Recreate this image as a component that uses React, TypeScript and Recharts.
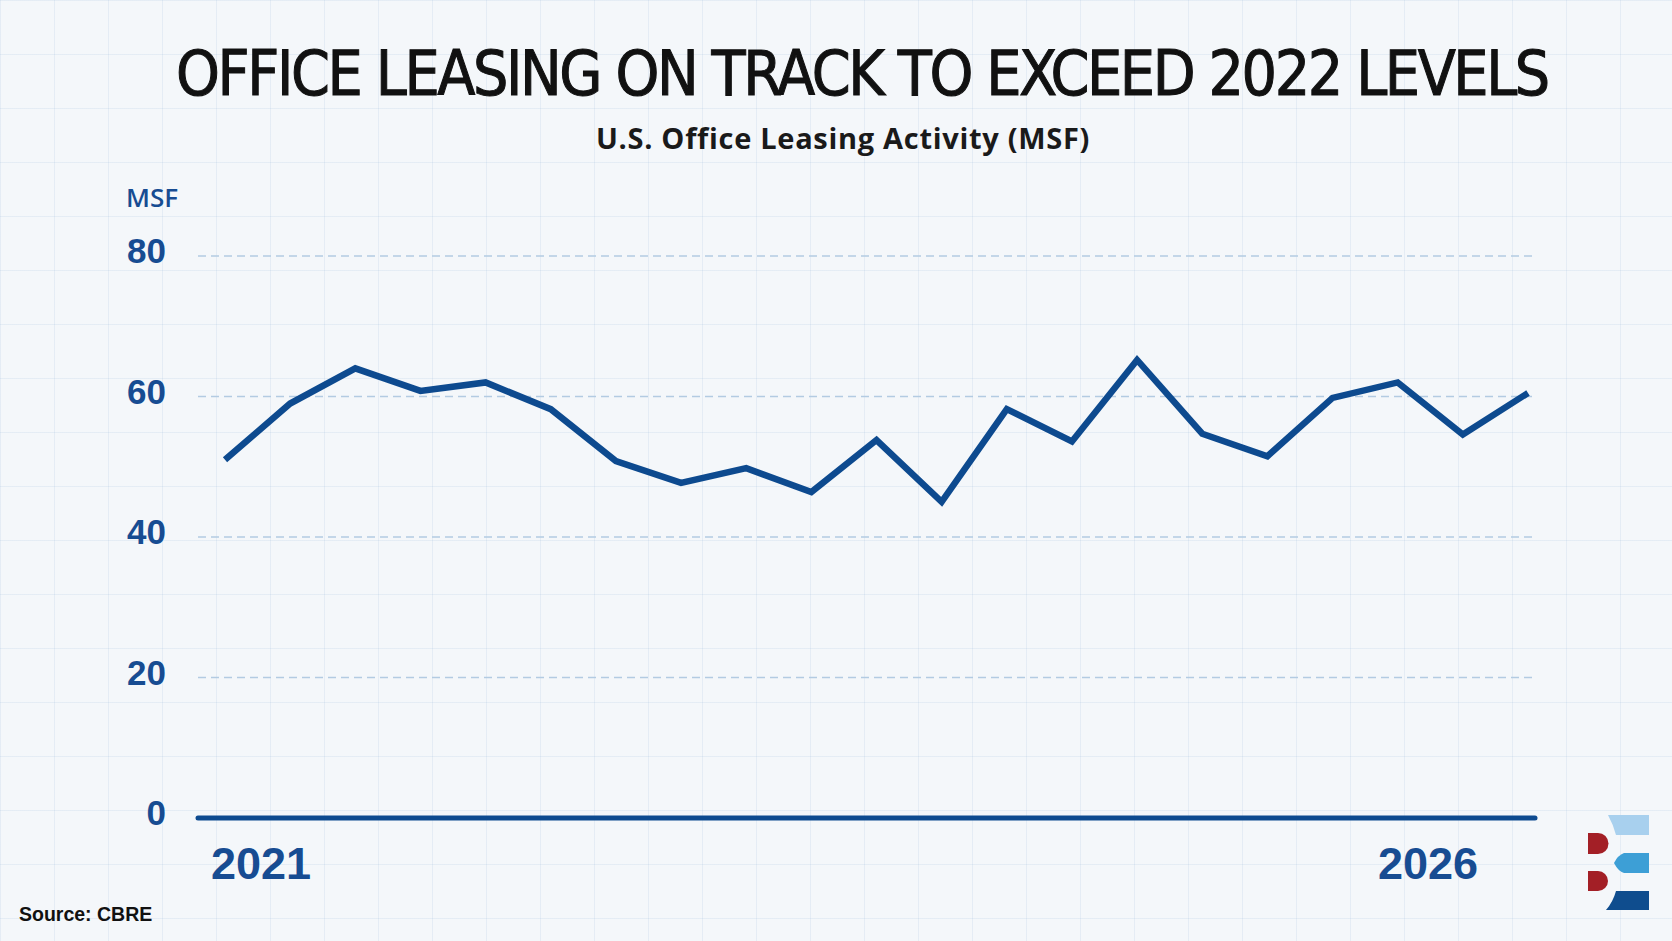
import React from 'react';
import {
  LineChart,
  Line,
  XAxis,
  YAxis,
  CartesianGrid,
} from 'recharts';

// Quarterly U.S. office leasing volume, Q1 2021 through Q1 2026 (MSF)
const quarters = [
  '2021 Q1', '2021 Q2', '2021 Q3', '2021 Q4',
  '2022 Q1', '2022 Q2', '2022 Q3', '2022 Q4',
  '2023 Q1', '2023 Q2', '2023 Q3', '2023 Q4',
  '2024 Q1', '2024 Q2', '2024 Q3', '2024 Q4',
  '2025 Q1', '2025 Q2', '2025 Q3', '2025 Q4',
  '2026 Q1',
];
const leasing = [
  51, 59, 64, 60.8,
  62, 58.2, 50.8, 47.7,
  49.8, 46.4, 53.8, 45,
  58.2, 53.6, 65.2, 54.7,
  51.5, 59.8, 62, 54.6,
  60.5,
];
const yTicks = [0, 20, 40, 60, 80];
const yearTicks = ['2021 Q1', '2026 Q1'];

const data = quarters.map((q, i) => ({ quarter: q, msf: leasing[i] }));

const W = 1672;
const H = 941;
const NAVY = '#0d4a8f';
const TICK_BLUE = '#174c92';

const YTick = (props: any) => {
  const { x, y, payload } = props;
  return (
    <text
      x={x}
      y={y + 7}
      textAnchor="end"
      fill={TICK_BLUE}
      fontFamily="'Liberation Sans', Arial, sans-serif"
      fontWeight={700}
      fontSize={35}
    >
      {payload.value}
    </text>
  );
};

// Year labels sit slightly inside the first and last points
const XTick = (props: any) => {
  const { x, y, payload } = props;
  const first = payload.value === yearTicks[0];
  return (
    <text
      x={first ? x - 14 : x - 50}
      y={y + 61}
      textAnchor={first ? 'start' : 'end'}
      fill={TICK_BLUE}
      fontFamily="'Liberation Sans', Arial, sans-serif"
      fontWeight={700}
      fontSize={45}
    >
      {String(payload.value).slice(0, 4)}
    </text>
  );
};

const Logo = () => (
  <svg
    width={70}
    height={100}
    viewBox="0 0 70 100"
    style={{ position: 'absolute', left: 1584, top: 812 }}
  >
    <path d="M24 3 H65 V23 H32 Q29 12 24 3 Z" fill="#a8d0ee" />
    <path d="M30 51 Q34 43 40 41 H65 V61 H40 Q34 59 30 51 Z" fill="#3d9fd6" />
    <path d="M22 98 Q29 90 32 79 H65 V98 Z" fill="#0f4d8e" />
    <path d="M4 21 H14 A10.5 10.5 0 0 1 14 42 H4 Z" fill="#a31f26" />
    <path d="M4 59 H14 A10 10 0 0 1 14 79 H4 Z" fill="#a31f26" />
  </svg>
);

export default function App() {
  return (
    <div
      style={{
        position: 'absolute',
        left: 0,
        top: 0,
        width: W,
        height: H,
        overflow: 'hidden',
        backgroundColor: '#f4f7fa',
        backgroundImage:
          'linear-gradient(rgba(160,190,220,0.18) 1px, transparent 1px), linear-gradient(90deg, rgba(160,190,220,0.18) 1px, transparent 1px)',
        backgroundSize: '54px 54px',
      }}
    >
      <div
        style={{
          position: 'absolute',
          left: 0,
          top: 36,
          width: W,
          textAlign: 'center',
          paddingLeft: 52,
          boxSizing: 'border-box',
          color: '#111111',
          WebkitTextStroke: '1px #111111',
          fontFamily: "'Liberation Sans Narrow', 'DejaVu Sans Condensed', sans-serif",
          fontSize: 62,
          letterSpacing: -2.4,
          lineHeight: '76px',
          whiteSpace: 'nowrap',
        }}
      >
        OFFICE LEASING ON TRACK TO EXCEED 2022 LEVELS
      </div>
      <div
        style={{
          position: 'absolute',
          left: 0,
          top: 118,
          width: W,
          textAlign: 'center',
          paddingLeft: 14,
          boxSizing: 'border-box',
          color: '#1a1a1a',
          fontFamily: "'Open Sans', 'Noto Sans', sans-serif",
          fontWeight: 700,
          fontSize: 29,
          letterSpacing: 0.7,
          lineHeight: '40px',
          whiteSpace: 'nowrap',
        }}
      >
        U.S. Office Leasing Activity (MSF)
      </div>

      <div
        style={{
          position: 'absolute',
          left: 126,
          top: 181,
          color: TICK_BLUE,
          fontFamily: "'Open Sans', 'Noto Sans', sans-serif",
          fontWeight: 600,
          fontSize: 26,
          lineHeight: '32px',
        }}
      >
        MSF
      </div>

      <div style={{ position: 'absolute', left: 0, top: 0 }}>
        <LineChart
          width={W}
          height={H}
          data={data}
          margin={{ top: 256, right: 137, left: 138, bottom: 63 }}
        >
          <CartesianGrid
            vertical={false}
            stroke="#b3cbe2"
            strokeWidth={1.6}
            strokeDasharray="8 5"
          />
          <XAxis
            dataKey="quarter"
            ticks={yearTicks}
            interval={0}
            height={60}
            tickSize={0}
            tickMargin={0}
            tickLine={false}
            padding={{ left: 27, right: 7 }}
            axisLine={{ stroke: NAVY, strokeWidth: 5, strokeLinecap: 'round' }}
            tick={<XTick />}
          />
          <YAxis
            domain={[0, 80]}
            ticks={yTicks}
            width={60}
            tickSize={0}
            tickMargin={32}
            axisLine={false}
            tickLine={false}
            tick={<YTick />}
          />
          <Line
            type="linear"
            dataKey="msf"
            stroke={NAVY}
            strokeWidth={6.5}
            strokeLinejoin="miter"
            dot={false}
            activeDot={false}
            isAnimationActive={false}
          />
        </LineChart>
      </div>

      <div
        style={{
          position: 'absolute',
          left: 19,
          top: 902,
          color: '#111111',
          fontFamily: "'Liberation Sans', Arial, sans-serif",
          fontWeight: 700,
          fontSize: 19.5,
          lineHeight: '24px',
        }}
      >
        Source: CBRE
      </div>

      <Logo />
    </div>
  );
}
